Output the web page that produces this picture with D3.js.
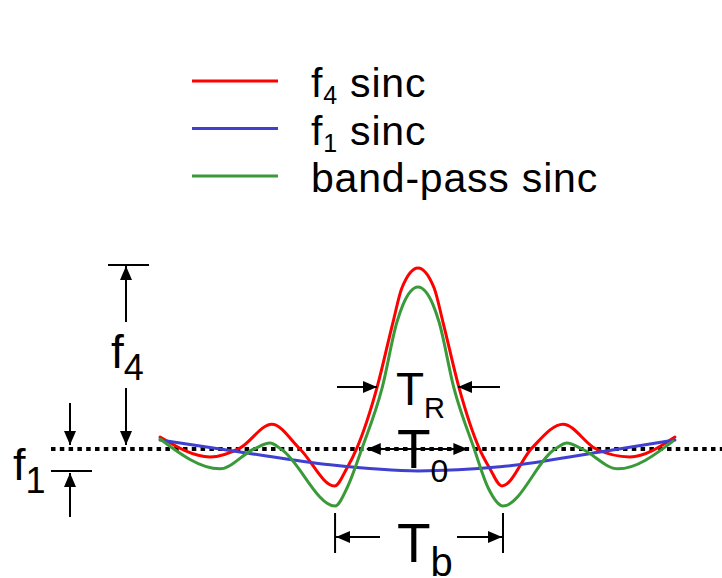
<!DOCTYPE html>
<html>
<head>
<meta charset="utf-8">
<script src="https://cdn.jsdelivr.net/npm/d3@7"></script>
<style>
    body { margin: 0; background: #fff; }
    text { font-family: "Liberation Sans", Arial, sans-serif; fill: #000; }
</style>
</head>
<body>
<svg id="chart" width="722" height="578"></svg>
<script>
// curve samples: [time, amplitude], amplitude 1 = f4, 0 = f1 level
var f4Sinc = [
    [-0.992, 0.065], [-0.8, -0.043], [-0.685, 0.005], [-0.562, 0.135], [-0.454, 0.0],
    [-0.321, -0.201], [-0.273, -0.103], [-0.235, 0.005], [-0.158, 0.332], [-0.096, 0.69],
    [-0.062, 0.875], [0, 0.984], [0.062, 0.875], [0.096, 0.69], [0.158, 0.332],
    [0.235, 0.005], [0.275, -0.103], [0.323, -0.201], [0.438, 0.005], [0.558, 0.135],
    [0.685, 0.0], [0.815, -0.043], [0.988, 0.065]
];
var f1Sinc = [
    [-0.992, 0.049], [-0.685, -0.016], [-0.338, -0.086], [0, -0.119],
    [0.315, -0.097], [0.7, -0.016], [0.988, 0.049]
];
var bandPassSinc = [
    [-0.992, 0.054], [-0.762, -0.108], [-0.631, 0.0], [-0.569, 0.032], [-0.527, 0.0],
    [-0.319, -0.31], [-0.273, -0.212], [-0.215, 0.005], [-0.138, 0.332], [-0.081, 0.69],
    [-0.058, 0.783], [0, 0.88], [0.058, 0.783], [0.081, 0.69], [0.138, 0.332],
    [0.215, 0.005], [0.27, -0.212], [0.327, -0.31], [0.527, 0.0], [0.573, 0.032],
    [0.631, 0.0], [0.769, -0.108], [0.981, 0.043]
];
var seriesColors = ["#ff0000", "#3f3fd0", "#3a9a3a"];
var legendMain = ["f", "f", "band-pass sinc"];
var legendSub = ["4", "1", ""];
var legendTail = [" sinc", " sinc", ""];

var svg = d3.select("#chart");
var x = d3.scaleLinear().domain([-1, 1]).range([158, 678]);
var y = d3.scaleLinear().domain([0, 1]).range([449, 265]);

// arrow head
svg.append("defs").append("marker")
    .attr("id", "head")
    .attr("markerUnits", "userSpaceOnUse")
    .attr("markerWidth", 14).attr("markerHeight", 12)
    .attr("refX", 14).attr("refY", 6)
    .attr("orient", "auto-start-reverse")
    .append("path").attr("d", "M0,0 L14,6 L0,12 Z").attr("fill", "#000");

// dotted f1 level
svg.append("line")
    .attr("x1", 51).attr("x2", 722)
    .attr("y1", y(0)).attr("y2", y(0))
    .attr("stroke", "#000").attr("stroke-width", 4)
    .attr("stroke-dasharray", "4.5 4.3");

// the three curves
var line = d3.line()
    .curve(d3.curveMonotoneX)
    .x(function (d) { return x(d[0]); })
    .y(function (d) { return y(d[1]); });

[f4Sinc, f1Sinc, bandPassSinc].forEach(function (s, i) {
    svg.append("path")
        .attr("d", line(s))
        .attr("fill", "none")
        .attr("stroke", seriesColors[i])
        .attr("stroke-width", 3)
        .attr("stroke-linecap", "round");
});

// legend
legendMain.forEach(function (m, i) {
    var ly = 81 + i * 47.5;
    svg.append("line")
        .attr("x1", 192).attr("x2", 278)
        .attr("y1", ly).attr("y2", ly)
        .attr("stroke", seriesColors[i]).attr("stroke-width", 3);
    var t = svg.append("text").attr("x", 311).attr("y", ly + 16)
        .attr("font-size", 41).attr("letter-spacing", 0.8);
    t.append("tspan").text(m);
    if (legendSub[i]) {
        t.append("tspan").attr("dy", 7).attr("font-size", 25).text(legendSub[i]);
        t.append("tspan").attr("dy", -7).text(legendTail[i]);
    }
});

function arrow(x1, y1, x2, y2, both) {
    var l = svg.append("line")
        .attr("x1", x1).attr("y1", y1).attr("x2", x2).attr("y2", y2)
        .attr("stroke", "#000").attr("stroke-width", 2)
        .attr("marker-end", "url(#head)");
    if (both) l.attr("marker-start", "url(#head)");
}
function bar(x1, x2, yy) {
    svg.append("line").attr("x1", x1).attr("x2", x2).attr("y1", yy).attr("y2", yy)
        .attr("stroke", "#000").attr("stroke-width", 2);
}
function vbar(xx, y1, y2) {
    svg.append("line").attr("x1", xx).attr("x2", xx).attr("y1", y1).attr("y2", y2)
        .attr("stroke", "#000").attr("stroke-width", 2);
}
function label(tx, ty, main, sub, size, subSize, dy) {
    var t = svg.append("text").attr("x", tx).attr("y", ty).attr("font-size", size);
    t.append("tspan").text(main);
    t.append("tspan").attr("dy", dy).attr("font-size", subSize).text(sub);
}

// f4 span
bar(108, 149, y(1));
arrow(126, 322, 126, y(1) + 1);
arrow(126, 388, 126, y(0) - 4);
label(111, 368, "f", "4", 46, 36, 12);

// f1 span
arrow(70, 403, 70, y(0) - 4);
bar(51, 92, y(-0.119));
arrow(70, 517, 70, y(-0.119) + 2);
label(13, 480, "f", "1", 45, 36, 13);

// T_R
arrow(337, 387, 377, 387);
arrow(500, 387, 458, 387);
label(396, 405, "T", "R", 46, 29, 13);

// T_0
arrow(x(-0.197), y(0), x(0.19), y(0), true);
label(397, 468, "T", "0", 55, 32, 14);

// T_b
vbar(x(-0.319), 513, 553);
vbar(x(0.327), 513, 553);
arrow(380, 537, x(-0.319) + 1, 537);
arrow(457, 537, x(0.327) - 1, 537);
label(397, 562, "T", "b", 55, 40, 14);
</script>
</body>
</html>
